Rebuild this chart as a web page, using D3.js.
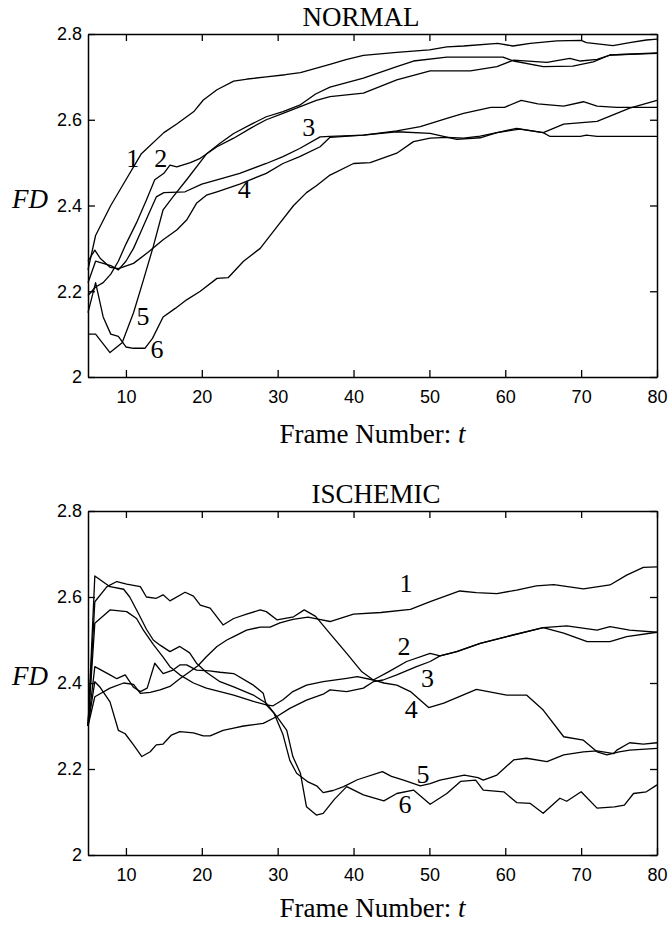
<!DOCTYPE html>
<html>
<head>
<meta charset="utf-8">
<script src="https://cdn.jsdelivr.net/npm/d3@7"></script>
<style>
  body { margin: 0; background: #fff; }
  svg { display: block; }
  .tick text { font-family: "Liberation Sans", Arial, sans-serif; font-size: 18px; fill: #000; }
  .serif { font-family: "Liberation Serif", "Times New Roman", serif; fill: #000; }
</style>
</head>
<body>
<div id="wrapper"></div>
<script>
// ---- data (frame number t, fractal dimension FD) ----
const tTicks = [10, 20, 30, 40, 50, 60, 70, 80];
const fdTicks = [2, 2.2, 2.4, 2.6, 2.8];
const curveNames = ['1', '2', '3', '4', '5', '6'];

const normal1 = [[5,2.25],[6,2.33],[8,2.40],[10,2.46],[12,2.52],[15,2.57],[16.7,2.59],[19,2.62],[20.2,2.646],[22,2.67],[24.2,2.69],[26,2.695],[28.5,2.70],[31,2.705],[33,2.71],[35,2.72],[37,2.73],[39,2.74],[41.3,2.75],[45.7,2.757],[50,2.763],[52.3,2.77],[54.5,2.772],[59,2.778],[61,2.772],[63.3,2.778],[66.8,2.784],[70,2.785],[70.7,2.78],[74.2,2.773],[76.4,2.78],[78.6,2.786],[80,2.788]];
const normal2 = [[5,2.19],[6,2.21],[7,2.22],[8,2.24],[9,2.27],[10,2.31],[11.4,2.36],[12.7,2.413],[13.8,2.46],[15,2.475],[15.8,2.494],[16.7,2.49],[18.5,2.50],[19.8,2.51],[22,2.537],[24.2,2.557],[26.4,2.58],[28.5,2.60],[30.7,2.615],[32.9,2.63],[35.1,2.645],[36.9,2.654],[41.3,2.662],[45.7,2.693],[50.1,2.714],[55.4,2.714],[58.9,2.724],[61.1,2.739],[65.5,2.734],[68.5,2.743],[69.9,2.737],[72.1,2.741],[73.8,2.751],[80,2.755]];
const normal3 = [[5,2.22],[6,2.27],[7,2.265],[8,2.26],[9,2.25],[10,2.27],[11,2.30],[12,2.34],[13,2.38],[14,2.42],[15,2.43],[17.8,2.432],[20,2.45],[22,2.46],[25,2.475],[28.5,2.498],[30.7,2.514],[32.9,2.533],[35.6,2.56],[36.9,2.561],[41.3,2.564],[45.7,2.572],[50.1,2.568],[53.6,2.554],[56.7,2.558],[58.9,2.57],[61.9,2.578],[65,2.57],[65.9,2.561],[69.9,2.561],[70.7,2.564],[72.1,2.561],[80,2.561]];
const normal4 = [[5,2.27],[5.9,2.296],[6.6,2.277],[7.9,2.256],[9,2.253],[11,2.265],[13,2.292],[14.9,2.32],[16.7,2.343],[18,2.366],[19.3,2.405],[20.6,2.424],[22,2.432],[25,2.45],[28.5,2.475],[30.7,2.498],[32.9,2.514],[35.6,2.537],[36.9,2.559],[41.3,2.564],[45.7,2.574],[48.8,2.584],[52.3,2.603],[54.5,2.615],[58.1,2.629],[59.9,2.629],[62.1,2.645],[64.3,2.637],[67.7,2.632],[70.3,2.642],[72.1,2.632],[74.7,2.629],[80,2.629]];
const normal5 = [[5,2.10],[6,2.10],[7.9,2.057],[9.5,2.08],[11,2.15],[12.3,2.226],[13.6,2.304],[14.9,2.39],[16.2,2.42],[18,2.46],[20.6,2.52],[22.4,2.545],[24.2,2.568],[26.8,2.592],[28.5,2.607],[30.7,2.619],[32.9,2.634],[35,2.66],[36.9,2.676],[41.3,2.697],[45.7,2.724],[47.9,2.737],[52.3,2.746],[59.7,2.746],[61.1,2.737],[65,2.724],[68.9,2.725],[71.6,2.735],[73.8,2.751],[80,2.756]];
const normal6 = [[5,2.15],[6,2.22],[7,2.14],[8,2.10],[9,2.095],[10,2.07],[11,2.067],[12.5,2.067],[13.5,2.09],[14.9,2.14],[16.5,2.16],[18,2.18],[19.8,2.20],[22,2.23],[23.5,2.232],[25.5,2.27],[27.7,2.30],[29.9,2.35],[32.1,2.40],[33.8,2.43],[35.1,2.446],[36.9,2.471],[40,2.498],[42.2,2.50],[45.7,2.522],[47.9,2.549],[50.1,2.557],[52.3,2.559],[54.5,2.557],[56.7,2.562],[58.9,2.57],[61.5,2.58],[65,2.57],[67.7,2.59],[72.1,2.596],[76.4,2.627],[80,2.645]];

const ischemic1 = [[5,2.30],[5.9,2.368],[7.9,2.388],[9.7,2.40],[11,2.397],[11.9,2.376],[13.2,2.378],[14.5,2.384],[15.8,2.392],[17.1,2.41],[18.4,2.426],[19.5,2.44],[20.6,2.461],[22,2.485],[23.3,2.50],[24.2,2.508],[25.9,2.523],[27.7,2.53],[29,2.53],[30.3,2.54],[32,2.548],[34,2.553],[35.5,2.548],[36.9,2.543],[40,2.56],[43.6,2.564],[47.5,2.571],[50.1,2.589],[54,2.614],[56.2,2.61],[58.9,2.608],[61.5,2.616],[64.1,2.626],[66.4,2.629],[70.3,2.619],[73.8,2.628],[76,2.651],[78.2,2.669],[80,2.67]];
const ischemic2 = [[5,2.30],[5.9,2.589],[7.5,2.624],[8.8,2.636],[10.1,2.63],[11.9,2.624],[12.7,2.60],[14,2.597],[14.9,2.605],[15.8,2.591],[17.8,2.611],[18.9,2.602],[19.8,2.581],[21.1,2.574],[22.8,2.535],[24.2,2.55],[25.9,2.56],[27.7,2.57],[28.5,2.566],[29.9,2.547],[32.1,2.554],[33.5,2.57],[35,2.555],[36.9,2.515],[39.1,2.469],[41.1,2.426],[42.6,2.407],[44.6,2.426],[47,2.45],[50.1,2.469],[51.4,2.463],[53.6,2.473],[56.7,2.492],[60.2,2.508],[65,2.529],[68.1,2.533],[72.1,2.523],[73.8,2.531],[76.4,2.523],[80,2.518]];
const ischemic3 = [[5,2.30],[5.9,2.403],[6.6,2.39],[7.9,2.356],[9,2.29],[9.9,2.282],[11,2.256],[12.1,2.229],[13.2,2.24],[14,2.256],[14.9,2.258],[16,2.279],[17.1,2.287],[18.9,2.284],[20.2,2.277],[21.1,2.277],[22.8,2.29],[24.2,2.295],[25.5,2.30],[28.1,2.306],[29.9,2.322],[31.6,2.341],[33.8,2.36],[36,2.374],[36.9,2.384],[39.1,2.38],[41.3,2.388],[42.6,2.403],[43.9,2.407],[45.7,2.419],[48.3,2.438],[50.1,2.45],[51.4,2.463],[53.6,2.473],[56.7,2.492],[60.2,2.508],[65,2.529],[67.7,2.516],[70.8,2.496],[73.8,2.496],[76,2.508],[80,2.518]];
const ischemic4 = [[5,2.30],[5.9,2.438],[7.9,2.419],[8.8,2.41],[9.9,2.419],[11,2.39],[11.9,2.38],[12.8,2.388],[13.8,2.446],[14.9,2.422],[16.2,2.43],[17.1,2.442],[18,2.442],[19.3,2.43],[21,2.428],[22.4,2.425],[24.2,2.422],[26.8,2.395],[28.1,2.376],[28.5,2.349],[29.4,2.347],[30.7,2.361],[32,2.38],[33.8,2.395],[36,2.403],[39.1,2.411],[40.5,2.415],[42.6,2.407],[44,2.40],[45.7,2.395],[47.5,2.38],[49.9,2.343],[51.9,2.353],[56.2,2.385],[60.2,2.372],[62.8,2.372],[65,2.337],[67.7,2.275],[70.3,2.267],[72.1,2.24],[73.4,2.233],[75,2.24],[76.4,2.244],[80,2.248]];
const ischemic5 = [[5,2.30],[5.9,2.539],[7.9,2.57],[10.1,2.566],[11.4,2.55],[12.3,2.523],[13.6,2.49],[14.9,2.46],[15.8,2.438],[17.1,2.419],[18.9,2.40],[20.6,2.388],[22.4,2.38],[24.2,2.372],[26.8,2.357],[28.5,2.349],[29.5,2.33],[30.7,2.28],[31.6,2.22],[32.5,2.19],[34,2.17],[35.2,2.16],[36,2.145],[37.3,2.15],[38.7,2.159],[40.5,2.175],[43.8,2.194],[45,2.183],[46.6,2.174],[48.8,2.161],[50.1,2.166],[51.4,2.174],[54.6,2.186],[56.4,2.18],[57.1,2.174],[58.9,2.186],[61.1,2.221],[62.8,2.225],[65.5,2.217],[67.7,2.233],[70.3,2.24],[72.1,2.242],[74.3,2.236],[74.7,2.244],[76.4,2.261],[78.2,2.258],[80,2.261]];
const ischemic6 = [[5,2.30],[5.9,2.649],[7.9,2.624],[9.7,2.618],[10.5,2.60],[11.7,2.56],[12.7,2.525],[13.6,2.50],[14.5,2.488],[15.8,2.473],[17.1,2.485],[18.4,2.47],[19.3,2.446],[20.6,2.425],[22.4,2.403],[24.2,2.391],[26.8,2.372],[28.5,2.353],[29.9,2.322],[31.2,2.29],[32,2.229],[33,2.19],[33.8,2.112],[35.1,2.093],[36,2.097],[37.5,2.13],[39.1,2.159],[41.3,2.14],[44,2.126],[45.7,2.143],[47.9,2.151],[50.1,2.118],[52.3,2.143],[54.1,2.171],[56.1,2.174],[57.1,2.151],[59.8,2.147],[61.5,2.122],[63.3,2.12],[65,2.097],[67.2,2.132],[68.1,2.125],[70,2.147],[72.1,2.109],[74.4,2.112],[75.7,2.116],[76.9,2.143],[78.6,2.147],[80,2.163]];

// curve-number label anchors [t, FD]
const normalLabelPos = [[10.9,2.49],[14.6,2.49],[34.1,2.562],[25.6,2.417],[12.25,2.121],[14.1,2.044]];
const ischemicLabelPos = [[46.9,2.612],[46.65,2.465],[49.75,2.391],[47.6,2.319],[49.15,2.167],[46.8,2.098]];

// ---- layout ----
const dimensions = {
    width: 669,
    height: 925,
    plotLeft: 88,
    plotRight: 657,
};

const panels = [
    { title: 'NORMAL', titleX: 361, top: 34, bottom: 377,
      series: [normal1, normal2, normal3, normal4, normal5, normal6], labels: normalLabelPos },
    { title: 'ISCHEMIC', titleX: 376, top: 511, bottom: 855,
      series: [ischemic1, ischemic2, ischemic3, ischemic4, ischemic5, ischemic6], labels: ischemicLabelPos },
];

const svg = d3.select('#wrapper')
    .append('svg')
    .attr('width', dimensions.width)
    .attr('height', dimensions.height);

panels.forEach(p => drawPanel(p));

function drawPanel(p) {
    const xScale = d3.scaleLinear()
        .domain([5, 80])
        .range([dimensions.plotLeft, dimensions.plotRight]);

    const yScale = d3.scaleLinear()
        .domain([2, 2.8])
        .range([p.bottom, p.top]);

    const g = svg.append('g');

    // curves
    const line = d3.line()
        .x(d => xScale(d[0]))
        .y(d => yScale(d[1]));

    g.selectAll('path.curve')
        .data(p.series)
        .join('path')
        .attr('class', 'curve')
        .attr('d', line)
        .attr('fill', 'none')
        .attr('stroke', '#000')
        .attr('stroke-width', 1.3)
        .attr('stroke-linejoin', 'round');

    // axes: ticks point inward on all four sides
    const bottomAxis = g.append('g')
        .attr('transform', `translate(0,${p.bottom})`)
        .call(d3.axisBottom(xScale).tickValues(tTicks).tickSizeInner(-7).tickSizeOuter(0).tickPadding(13));

    const topAxis = g.append('g')
        .attr('transform', `translate(0,${p.top})`)
        .call(d3.axisTop(xScale).tickValues(tTicks).tickSizeInner(-7).tickSizeOuter(0).tickFormat(''));

    const leftAxis = g.append('g')
        .attr('transform', `translate(${dimensions.plotLeft},0)`)
        .call(d3.axisLeft(yScale).tickValues(fdTicks).tickSizeInner(-7).tickSizeOuter(0).tickPadding(6)
            .tickFormat(d3.format('~g')));

    const rightAxis = g.append('g')
        .attr('transform', `translate(${dimensions.plotRight},0)`)
        .call(d3.axisRight(yScale).tickValues(fdTicks).tickSizeInner(-7).tickSizeOuter(0).tickFormat(''));

    [bottomAxis, topAxis, leftAxis, rightAxis].forEach(ax => {
        ax.attr('font-family', null).attr('font-size', null);
        ax.select('.domain').attr('stroke', '#000').attr('stroke-width', 1.5);
        ax.selectAll('.tick line').attr('stroke', '#000').attr('stroke-width', 1.3);
    });

    // title
    g.append('text')
        .attr('class', 'serif')
        .attr('x', p.titleX)
        .attr('y', p.top - 8)
        .attr('text-anchor', 'middle')
        .attr('font-size', 27)
        .text(p.title);

    // y label
    g.append('text')
        .attr('class', 'serif')
        .attr('x', 12)
        .attr('y', yScale(2.4) + 2)
        .attr('font-size', 27)
        .attr('font-style', 'italic')
        .text('FD');

    // x label (kept inside the page at the bottom)
    const xLabel = g.append('text')
        .attr('class', 'serif')
        .attr('x', (dimensions.plotLeft + dimensions.plotRight) / 2)
        .attr('y', Math.min(p.bottom + 66, dimensions.height - 8))
        .attr('text-anchor', 'middle')
        .attr('font-size', 27);
    xLabel.append('tspan').text('Frame Number: ');
    xLabel.append('tspan').attr('font-style', 'italic').text('t');

    // curve numbers
    g.selectAll('text.curve-label')
        .data(p.labels)
        .join('text')
        .attr('class', 'serif curve-label')
        .attr('x', d => xScale(d[0]))
        .attr('y', d => yScale(d[1]))
        .attr('text-anchor', 'middle')
        .attr('font-size', 26)
        .text((d, i) => curveNames[i]);
}
</script>
</body>
</html>
